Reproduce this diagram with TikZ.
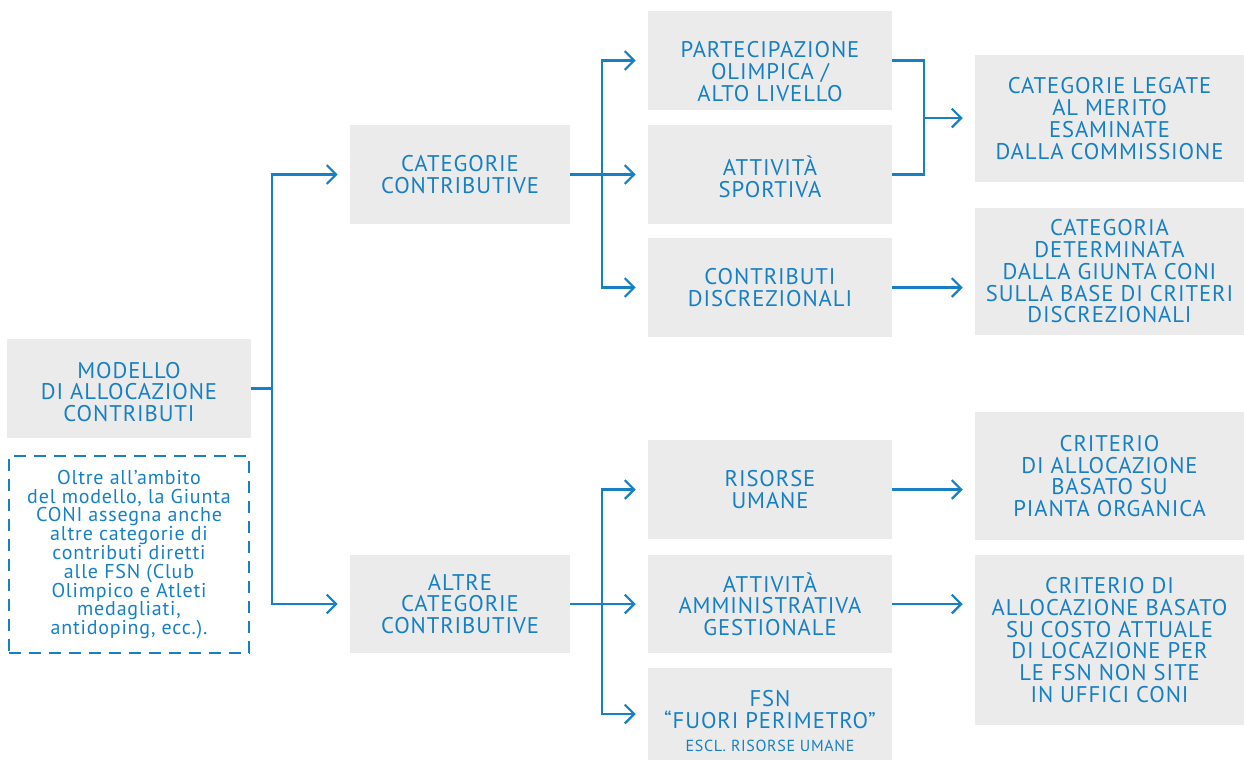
\documentclass[tikz,border=0pt]{standalone}
\usepackage{fontspec}
\setmainfont{PT Sans}[LetterSpace=4]
\usetikzlibrary{arrows.meta}
\definecolor{cblue}{HTML}{1780C5}
\definecolor{cgray}{HTML}{EBEBEB}
\tikzset{
  box/.style={fill=cgray, draw=none, text=cblue, align=center, inner sep=0pt,
    font=\fontsize{17}{16.3}\selectfont},
  txt/.style={text=cblue, align=center, inner sep=0pt, font=\fontsize{17}{16.3}\selectfont},
  conn/.style={draw=cblue, line width=1.7pt},
  arr/.style={conn, -{Straight Barb[length=7pt,width=14pt,line width=1.7pt]}, shorten >=9pt},
}
\begin{document}
\begin{tikzpicture}[x=0.75pt,y=-0.75pt]
\useasboundingbox (0,0) rectangle (1244,760);
% column 1
\node[box, minimum width=183pt, minimum height=74.25pt] (model) at (129,388.5) {};
\node[txt] (modelt) at (129,392) {MODELLO\\DI ALLOCAZIONE\\CONTRIBUTI};
\node[draw=cblue, line width=1.8pt, dash pattern=on 9pt off 6pt, text=cblue, align=center,
  minimum width=180pt, minimum height=147.75pt, inner sep=0pt,
  font=\fontsize{15}{14.1}\selectfont] (note) at (129,554.5)
  {Oltre all’ambito\\del modello, la Giunta\\CONI assegna anche\\altre categorie di\\contributi diretti\\alle FSN (Club\\Olimpico e Atleti\\medagliati,\\antidoping, ecc.).};
% column 2
\node[box, minimum width=165pt, minimum height=74.25pt] (cat) at (460,174.5) {CATEGORIE\\CONTRIBUTIVE};
\node[box, minimum width=165pt, minimum height=73.5pt] (altre) at (460,604) {ALTRE\\CATEGORIE\\CONTRIBUTIVE};
% column 3
\node[box, minimum width=183pt, minimum height=74.25pt] (part) at (770,60.5) {};
\node[txt] (partt) at (770,71.5) {PARTECIPAZIONE\\OLIMPICA /\\ALTO LIVELLO};
\node[box, minimum width=183pt, minimum height=74.25pt] (sport) at (770,174.5) {};
\node[txt] (sportt) at (770,177) {ATTIVITÀ\\SPORTIVA};
\node[box, minimum width=183pt, minimum height=74.25pt] (discr) at (770,287.5) {CONTRIBUTI\\DISCREZIONALI};
\node[box, minimum width=183pt, minimum height=74.25pt] (ris) at (770,489.5) {RISORSE\\UMANE};
\node[box, minimum width=183pt, minimum height=73.5pt] (amm) at (770,604) {ATTIVITÀ\\AMMINISTRATIVA\\GESTIONALE};
\node[box, minimum width=183pt, minimum height=69pt] (fsn) at (770,714) {};
\node[txt] (fsnt) at (770,721) {FSN\\“FUORI PERIMETRO”\\[1pt]{\fontsize{12}{12}\selectfont ESCL. RISORSE UMANE}};
% column 4
\node[box, minimum width=201.75pt, minimum height=95.25pt] (merito) at (1109.5,118.5) {CATEGORIE LEGATE\\AL MERITO\\ESAMINATE\\DALLA COMMISSIONE};
\node[box, minimum width=201.75pt, minimum height=95.25pt] (giunta) at (1109.5,271.5) {CATEGORIA\\DETERMINATA\\DALLA GIUNTA CONI\\SULLA BASE DI CRITERI\\DISCREZIONALI};
\node[box, minimum width=201.75pt, minimum height=96pt] (pianta) at (1109.5,476) {CRITERIO\\DI ALLOCAZIONE\\BASATO SU\\PIANTA ORGANICA};
\node[box, minimum width=201.75pt, minimum height=127.5pt] (costo) at (1109.5,640) {CRITERIO DI\\ALLOCAZIONE BASATO\\SU COSTO ATTUALE\\DI LOCAZIONE PER\\LE FSN NON SITE\\IN UFFICI CONI};
% junctions
\coordinate (j1) at (272,388.5);
\coordinate (j2) at (602,174.5);
\coordinate (j3) at (602,604);
\coordinate (j4) at (924,118);
% connectors
\draw[conn] (model.east) -- (j1);
\draw[arr] (j1) |- (cat.west);
\draw[arr] (j1) |- (altre.west);
\draw[conn] (cat.east) -- (j2);
\draw[arr] (j2) |- (part.west);
\draw[arr] (j2) -- (sport.west);
\draw[arr] (j2) |- (discr.west);
\draw[conn] (altre.east) -- (j3);
\draw[arr] (j3) |- (ris.west);
\draw[arr] (j3) -- (amm.west);
\draw[arr] (j3) |- (fsn.west);
\draw[conn] (part.east) -| (j4) |- (sport.east);
\draw[arr] (j4) -- (merito.west |- j4);
\draw[arr] (discr.east) -- (giunta.west |- discr.east);
\draw[arr] (ris.east) -- (pianta.west |- ris.east);
\draw[arr] (amm.east) -- (costo.west |- amm.east);
\end{tikzpicture}
\end{document}
